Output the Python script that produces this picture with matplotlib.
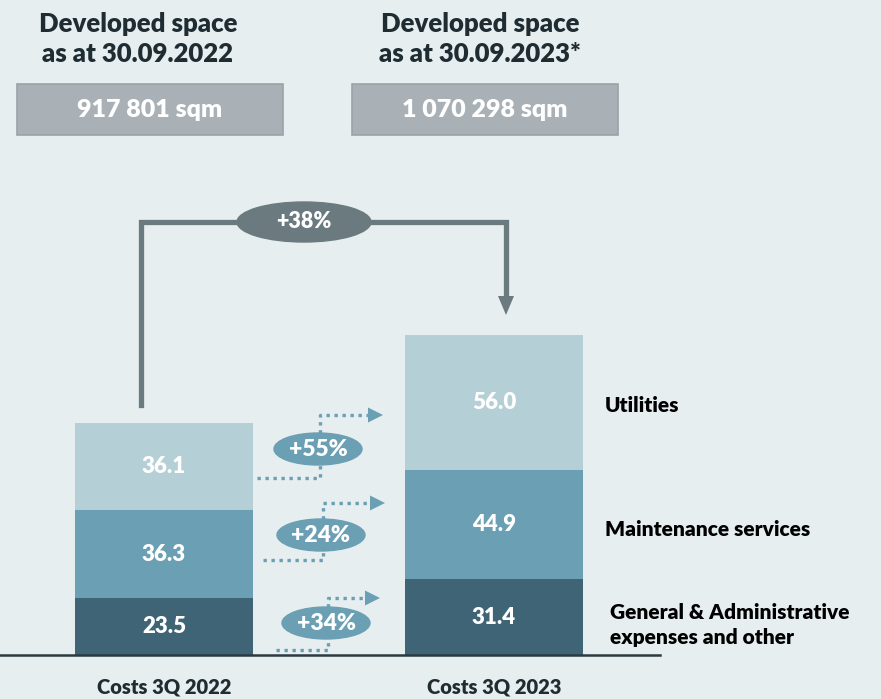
import matplotlib.pyplot as plt
from matplotlib.patches import Ellipse, Rectangle

# data
categories = ["Costs 3Q 2022", "Costs 3Q 2023"]
segments = ["General & Administrative\nexpenses and other", "Maintenance services", "Utilities"]
values_2022 = [23.5, 36.3, 36.1]
values_2023 = [31.4, 44.9, 56.0]
seg_changes = ["+34%", "+24%", "+55%"]
total_change = "+38%"
space_titles = ["Developed space\nas at 30.09.2022", "Developed space\nas at 30.09.2023*"]
space_values = ["917 801 sqm", "1 070 298 sqm"]

bg = "#e6eef0"
seg_colors = ["#3f6475", "#6b9fb3", "#b5cfd7"]
bracket_c = "#6b7a7f"
pct_c = "#6b9fb3"
plt.rcParams['font.family'] = ['Lato', 'DejaVu Sans']
plt.rcParams['font.weight'] = 'heavy'

fig = plt.figure(figsize=(8.81, 6.99), dpi=100, facecolor=bg)
ax = fig.add_axes([0, 0, 1, 1])
ax.set_facecolor(bg)
S = 2.42  # px per unit
base_px = 655
ax.set_xlim(0, 881)
ax.set_ylim(-(699 - base_px) / S, base_px / S)
ax.axis("off")

def py(p):  # pixel row -> value units (layout only)
    return (base_px - p) / S

xs = [164, 494]
bw = 178
for x, vals in zip(xs, [values_2022, values_2023]):
    bottom = 0
    for v, c in zip(vals, seg_colors):
        ax.bar(x, v, bw, bottom=bottom, color=c, zorder=2)
        ax.text(x, bottom + v / 2, f"{v:.1f}", color="white", fontsize=16,
                ha="center", va="center", zorder=3)
        bottom += v

# baseline
ax.plot([0, 660], [0, 0], color="#2b3a40", lw=1.8, zorder=4)

# category labels
for x, c in zip(xs, categories):
    ax.text(x, py(687), c, ha="center", va="center", fontsize=14.5, color="#1f2d33")

# segment labels on the right
ax.text(610, py(625), segments[0], ha="left", va="center", fontsize=15,
        color="black", linespacing=1.4)
ax.text(605, py(529), segments[1], ha="left", va="center", fontsize=15, color="black")
ax.text(605, py(405), segments[2], ha="left", va="center", fontsize=15, color="black")

# dotted change arrows
dot = dict(color=pct_c, lw=2.4, dashes=(1, 1.4), dash_capstyle="butt", zorder=3)
arrow_rows = [(650, 598, 276, 328, 365), (560, 503, 263, 323, 370), (478, 415, 257, 320, 368)]
ell_rows = [623, 535, 449]
for (yb, yt, x0, xm, x1), ye, lab in zip(arrow_rows, ell_rows, seg_changes):
    ax.plot([x0, xm, xm], [py(yb), py(yb), py(ye)], **dot)
    ax.plot([xm, xm, x1], [py(ye), py(yt), py(yt)], **dot)
    ax.fill([x1, x1 + 15, x1], [py(yt - 7.5), py(yt), py(yt + 7.5)], color=pct_c, lw=0, zorder=3)
    ax.add_patch(Ellipse((xm - 2, py(ye)), 88, 32 / S, color=pct_c, zorder=4))
    ax.text(xm - 2, py(ye), lab, color="white", fontsize=16.5, ha="center", va="center", zorder=5)

# total change bracket
tot1, tot2 = sum(values_2022), sum(values_2023)
yt = py(222)
blw = 3.8
ax.plot([141, 141, 506, 506], [tot1 + 7.5, yt, yt, py(298)], color=bracket_c, lw=blw,
        solid_joinstyle="miter", zorder=3)
ax.fill([498, 514, 506], [py(296), py(296), py(315)], color=bracket_c, lw=0, zorder=3)
ax.add_patch(Ellipse((304, yt), 134, 40 / S, color=bracket_c, zorder=4))
ax.text(304, yt, total_change, color="white", fontsize=15.5, ha="center", va="center", zorder=5)

# developed space headers and boxes
for cx, tx, title, val in zip([150, 485], [138, 480], space_titles, space_values):
    ax.text(tx, py(39), title, ha="center", va="center", fontsize=18.5, color="#1f2d33",
            linespacing=1.35)
    ax.add_patch(Rectangle((cx - 133, py(135)), 266, 51 / S, facecolor="#a9b1b6",
                           edgecolor="#9aa3a8", lw=1.2))
    ax.text(cx, py(110), val, ha="center", va="center", fontsize=18, color="white")

fig.savefig("out.png", dpi=100, facecolor=bg)
